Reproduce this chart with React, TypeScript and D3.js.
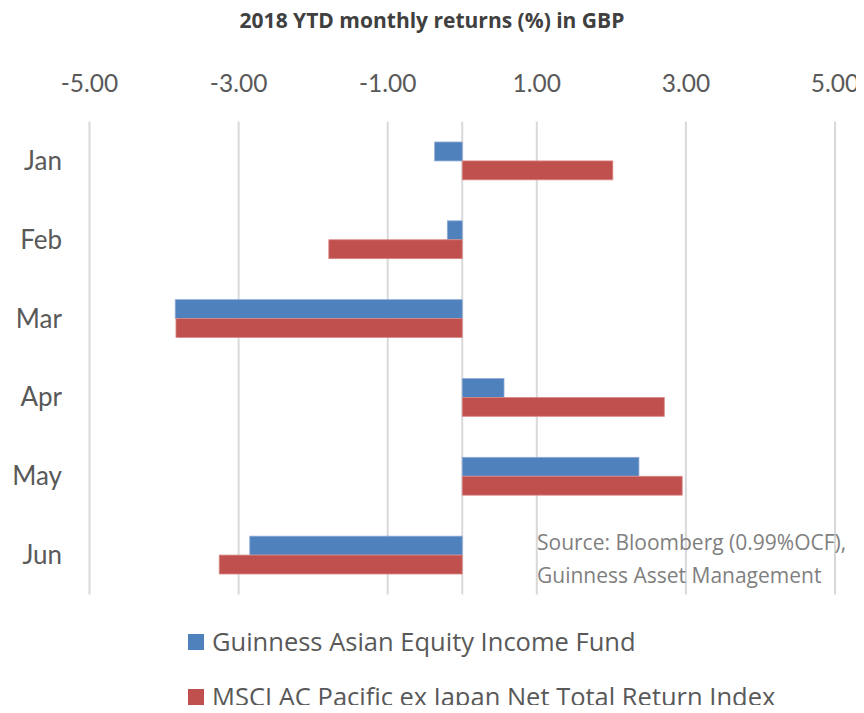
import React from "react";
import * as d3 from "d3";

const months = ["Jan", "Feb", "Mar", "Apr", "May", "Jun"];
const guinness = [-0.37, -0.2, -3.85, 0.56, 2.37, -2.85];
const msci = [2.02, -1.79, -3.84, 2.71, 2.95, -3.26];
const seriesNames = [
  "Guinness Asian Equity Income Fund",
  "MSCI AC Pacific ex Japan Net Total Return Index",
];
const tickValues = [-5, -3, -1, 1, 3, 5];
const colors = ["#4F81BD", "#C0504D"];

const W = 864;
const H = 713;
const FONT = "Lato, 'Open Sans', sans-serif";
const FONT2 = "'Open Sans', sans-serif";

const fmt = (t: number) => d3.format(".2f")(t).replace("\u2212", "-");

export default function App() {
  const x = d3.scaleLinear().domain([-5, 5]).range([89.5, 835]);
  const y = d3.scaleBand<string>().domain(months).range([121.5, 594.5]).paddingInner(0.52).paddingOuter(0.26);
  const sub = d3.scaleBand<number>().domain([0, 1]).range([0, y.bandwidth()]);
  const series = [guinness, msci];

  return (
    <div style={{ margin: -8 }}>
      <svg width={W} height={H} style={{ display: "block", background: "#fff" }}>
        <text x={432} y={28} textAnchor="middle" fontFamily={FONT2} fontWeight="bold" fontSize={21} fill="#404040">
          2018 YTD monthly returns (%) in GBP
        </text>
        {tickValues.map((t) => (
          <g key={t}>
            <line x1={x(t)} x2={x(t)} y1={121.5} y2={594.5} stroke="#D9D9D9" strokeWidth={2} />
            <text x={x(t)} y={92} textAnchor="middle" fontFamily={FONT} fontSize={24.5} fill="#595959">
              {fmt(t)}
            </text>
          </g>
        ))}
        <line x1={x(0)} x2={x(0)} y1={121.5} y2={594.5} stroke="#D9D9D9" strokeWidth={2} />
        {months.map((m) => (
          <text key={m} x={62} y={(y(m) as number) + y.bandwidth() / 2 + 9} textAnchor="end" fontFamily={FONT} fontSize={26} fill="#595959">
            {m}
          </text>
        ))}
        {series.map((vals, s) =>
          vals.map((v, i) => {
            const y0 = (y(months[i]) as number) + (sub(s) as number);
            const x0 = Math.min(x(0), x(v));
            const w = Math.abs(x(v) - x(0));
            return (
              <rect key={`${s}-${i}`} x={x0} y={y0} width={w} height={sub.bandwidth()} fill={colors[s]} stroke={s === 0 ? "#8EAAD6" : "#D98A88"} strokeWidth={0.8} />
            );
          })
        )}
        <text fontFamily={FONT2} fontSize={21} fill="#7F7F7F">
          <tspan x={537} y={550}>Source: Bloomberg (0.99%OCF),</tspan>
          <tspan x={537} y={583}>Guinness Asset Management</tspan>
        </text>
        {seriesNames.map((n, i) => (
          <g key={n}>
            <rect x={188} y={634 + i * 55} width={16} height={16} fill={colors[i]} />
            <text x={212} y={651 + i * 55} fontFamily={FONT2} fontSize={25.5} fill="#595959">
              {n}
            </text>
          </g>
        ))}
      </svg>
    </div>
  );
}
